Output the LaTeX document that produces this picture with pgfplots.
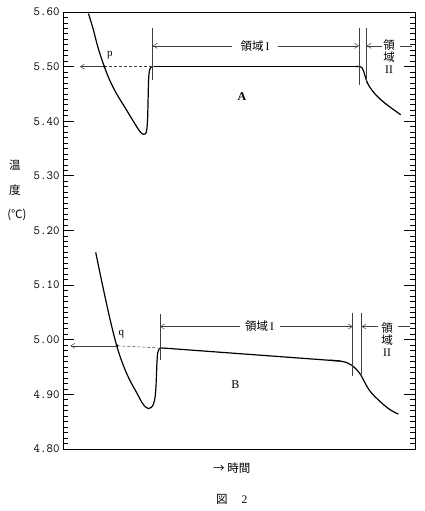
\documentclass[border=0pt]{standalone}
\usepackage{pgfplots}
\pgfplotsset{compat=1.18}
\usetikzlibrary{arrows.meta}
\usepackage{fontspec}
\setmainfont{Liberation Serif}
\newfontfamily\jp{Noto Sans CJK JP}
\tikzset{
  myaux/.style={black!75, line width=0.5pt},
  myarr/.style={myaux, -{Straight Barb[length=4pt,width=5pt]}},
  mylab/.style={font=\fontsize{11.5}{12}\selectfont, inner sep=1pt},
}
\begin{document}
\begin{tikzpicture}
\begin{axis}[
  scale only axis, width=352pt, height=437pt,
  xmin=63, xmax=415, ymin=4.80, ymax=5.60,
  xtick=\empty,
  ytick={4.80,4.90,5.00,5.10,5.20,5.30,5.40,5.50,5.60},
  minor ytick={4.81,4.82,...,5.595},
  tick align=inside,
  major tick length=11pt, minor tick length=5.5pt,
  tick style={black, line width=0.8pt},
  /pgf/number format/assume math mode=true,
  yticklabel style={/pgf/number format/fixed, /pgf/number format/fixed zerofill, /pgf/number format/precision=2, font=\ttfamily\fontsize{12.5}{13}\selectfont},
]
% Curve A
\addplot[black, line width=1.2pt, smooth, tension=0.55] coordinates {
(88.5,5.597) (93.3,5.568) (98,5.535) (104.3,5.500) (110,5.474) (116.7,5.450)
(126.7,5.420) (136.7,5.390) (140.5,5.380) (143.3,5.376) (145.5,5.377) (146.8,5.385)
(147.6,5.405) (148.1,5.440) (148.6,5.476) (149.4,5.492) (151,5.499) (153.5,5.500)
};
\addplot[black, line width=1.2pt] coordinates {(153.5,5.500) (360,5.500)};
\addplot[black, line width=1.2pt, smooth, tension=0.6] coordinates {
(355,5.500) (360,5.500) (362,5.498) (363.6,5.492) (365.2,5.482) (368,5.468) (375,5.450) (385,5.433) (400.7,5.412)
};
% Curve B
\addplot[black, line width=1.2pt, smooth, tension=0.55] coordinates {
(95.7,5.160) (100,5.122) (105.7,5.073) (111,5.030) (116.7,4.989) (121.5,4.962)
(126.7,4.938) (131.5,4.920) (136.7,4.903) (142,4.885) (145.5,4.877) (148.3,4.874)
(151.3,4.876) (153.6,4.883) (155.1,4.895) (155.9,4.912) (156.5,4.937) (157,4.960)
(157.6,4.975) (158.5,4.981) (159.5,4.984) (161.7,4.985)
};
\addplot[black, line width=1.2pt] coordinates {(161.7,4.985) (340,4.961)};
\addplot[black, line width=1.2pt, smooth, tension=0.6] coordinates {
(330,4.9625) (340,4.961) (347,4.958) (352,4.953) (356.7,4.945) (360.7,4.936) (363.3,4.927)
(370,4.906) (380,4.887) (390,4.872) (398.3,4.864)
};
% ---- annotations A
\draw[myaux, dash pattern=on 3pt off 2pt] (axis cs:104.3,5.500) -- (axis cs:152.7,5.500);
\draw[myarr] (axis cs:104.3,5.500) -- (axis cs:80,5.500);
\fill (axis cs:104.3,5.500) circle (1.4pt);
\node[font=\fontsize{11}{11}\selectfont] at (axis cs:110,5.521) {p};
\draw[myaux] (axis cs:152.7,5.571) -- (axis cs:152.7,5.476);
\draw[myaux] (axis cs:359,5.571) -- (axis cs:359,5.467);
\draw[myaux] (axis cs:366.7,5.571) -- (axis cs:366.7,5.470);
\draw[myarr] (axis cs:232,5.538) -- (axis cs:152.7,5.538);
\draw[myarr] (axis cs:278,5.538) -- (axis cs:359,5.538);
\node[mylab] at (axis cs:255,5.538) {{\jp 領域}\,I};
\draw[myarr] (axis cs:382,5.538) -- (axis cs:366.7,5.538);
\node[mylab] at (axis cs:389,5.540) {\jp 領};
\node[mylab] at (axis cs:389,5.518) {\jp 域};
\node[mylab] at (axis cs:389,5.494) {II};
\draw[myaux] (axis cs:400,5.538) -- (axis cs:411.7,5.538);
\node[font=\bfseries\fontsize{12}{12}\selectfont] at (axis cs:242,5.445) {A};
% ---- annotations B
\draw[myaux, dash pattern=on 3pt off 2pt] (axis cs:117.3,4.989) -- (axis cs:158.3,4.985);
\draw[myarr] (axis cs:117.3,4.989) -- (axis cs:70.5,4.989);
\fill (axis cs:117.3,4.989) circle (1.4pt);
\node[font=\fontsize{11}{11}\selectfont] at (axis cs:121.5,5.010) {q};
\draw[myaux] (axis cs:160,5.0476) -- (axis cs:160,4.963);
\draw[myaux] (axis cs:352.7,5.049) -- (axis cs:352.7,4.934);
\draw[myaux] (axis cs:361.7,5.049) -- (axis cs:361.7,4.937);
\draw[myarr] (axis cs:240,5.0242) -- (axis cs:160,5.0242);
\draw[myarr] (axis cs:280,5.0242) -- (axis cs:352.7,5.0242);
\node[mylab] at (axis cs:259.5,5.0242) {{\jp 領域}\,I};
\draw[myarr] (axis cs:378,5.0242) -- (axis cs:361.7,5.0242);
\node[mylab] at (axis cs:387,5.022) {\jp 領};
\node[mylab] at (axis cs:387,5.000) {\jp 域};
\node[mylab] at (axis cs:387,4.977) {II};
\draw[myaux] (axis cs:398,5.0242) -- (axis cs:410,5.0242);
\node[font=\fontsize{12}{12}\selectfont] at (axis cs:235.3,4.917) {B};
% coordinates for outside labels
\coordinate (bl) at (axis cs:63,4.80);
\coordinate (c1) at (axis cs:15,5.320);
\coordinate (c2) at (axis cs:15,5.274);
\coordinate (c3) at (axis cs:17,5.229);
\coordinate (c4) at (axis cs:212,4.7654);
\coordinate (c5) at (axis cs:215,4.7086);
\end{axis}
\node[mylab] at (c1) {\jp 温};
\node[mylab] at (c2) {\jp 度};
\node[mylab] at (c3) {\jp (℃)};
\node[mylab, anchor=west] at (c4) {\jp → 時間};
\node[mylab, anchor=west] at (c5) {{\jp 図}\hspace{14pt}2};
\path (bl) ++(-63pt,-62pt) rectangle ++(425pt,511pt);
\end{tikzpicture}
\end{document}
